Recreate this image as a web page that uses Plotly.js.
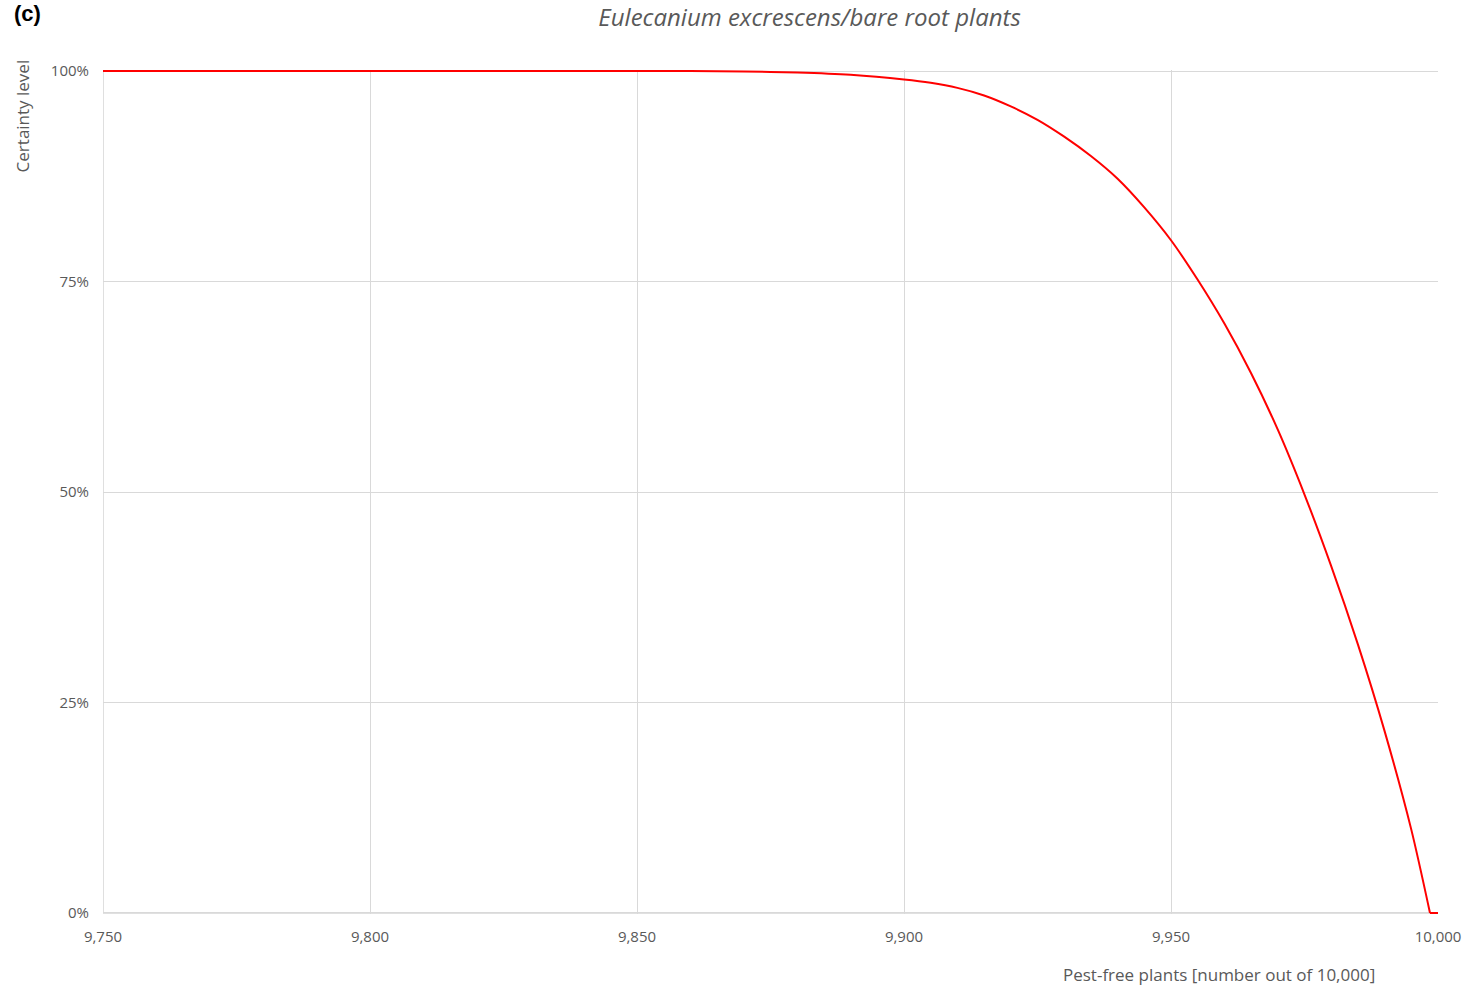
<!DOCTYPE html>
<html>
<head>
<meta charset="utf-8">
<script src="https://cdn.plot.ly/plotly-3.0.1.min.js"></script>
<style>html,body{margin:0;padding:0;background:#fff;}#chart{width:1464px;height:988px;}</style>
</head>
<body>
<div id="chart"></div>
<script>
const pestFree = [9750, 9800, 9850, 9860, 9870, 9880, 9890, 9900, 9905, 9910, 9915, 9920, 9925, 9930, 9935, 9940, 9945, 9950, 9955, 9960, 9965, 9970, 9975, 9980, 9985, 9990, 9995, 9998.5, 10000];
const certainty = [1.0, 1.0, 1.0, 0.9999, 0.9995, 0.9982, 0.9955, 0.990, 0.986, 0.980, 0.971, 0.958, 0.942, 0.922, 0.899, 0.872, 0.838, 0.799, 0.752, 0.700, 0.641, 0.574, 0.497, 0.412, 0.319, 0.216, 0.099, 0.0, 0.0];
const xTicks = [9750, 9800, 9850, 9900, 9950, 10000];
const xTickLabels = ["9,750", "9,800", "9,850", "9,900", "9,950", "10,000"];
const yTicks = [0, 0.25, 0.5, 0.75, 1.0];
const yTickLabels = ["0%", "25%", "50%", "75%", "100%"];

const font = "Open Sans, Liberation Sans, sans-serif";
const n = pestFree.length;
const curve = {
  x: pestFree.slice(0, n - 1), y: certainty.slice(0, n - 1), type: "scatter", mode: "lines",
  line: {color: "#ff0000", width: 2, shape: "spline", smoothing: 0.8},
  hoverinfo: "skip"
};
const tail = {
  x: pestFree.slice(n - 2), y: certainty.slice(n - 2), type: "scatter", mode: "lines",
  line: {color: "#ff0000", width: 2},
  hoverinfo: "skip"
};
const layout = {
  width: 1464, height: 988,
  margin: {l: 103, r: 26, t: 70, b: 74},
  paper_bgcolor: "#ffffff", plot_bgcolor: "#ffffff",
  showlegend: false,
  title: {text: "<i>Eulecanium excrescens/bare root plants</i>", x: 0.553, xanchor: "center", y: 0.982, yanchor: "middle",
          font: {family: font, size: 24, color: "#595959"}},
  xaxis: {
    range: [9750, 10000], tickvals: xTicks, ticktext: xTickLabels,
    showgrid: true, gridcolor: "#d9d9d9", gridwidth: 1,
    showline: false,
    zeroline: false, ticks: "", ticklabelstandoff: 12,
    tickfont: {family: font, size: 15, color: "#595959"}
  },
  yaxis: {
    range: [-0.0012, 1.0012], tickvals: yTicks, ticktext: yTickLabels,
    showgrid: true, gridcolor: "#d9d9d9", gridwidth: 1,
    showline: false,
    zeroline: false, ticks: "", ticklabelstandoff: 13,
    tickfont: {family: font, size: 15, color: "#595959"}
  },
  shapes: [
    {type: "line", xref: "x", yref: "y", x0: 9750, x1: 10000, y0: 0, y1: 0, line: {color: "#bfbfbf", width: 1}, layer: "below"},
    {type: "line", xref: "x", yref: "y", x0: 9750, x1: 9750, y0: 0, y1: 1, line: {color: "#bfbfbf", width: 1}, layer: "below"}
  ],
  annotations: [
    {text: "<b>(c)</b>", xref: "paper", yref: "paper", x: -0.0682, y: 1.0665, xanchor: "left", yanchor: "middle",
     showarrow: false, font: {family: "Liberation Sans, Arial, sans-serif", size: 22, color: "#000000"}},
    {text: "Certainty level", xref: "paper", yref: "paper", x: -0.0607, y: 1.0155, xanchor: "center", yanchor: "top",
     textangle: -90, showarrow: false, font: {family: font, size: 17, color: "#595959"}},
    {text: "Pest-free plants [number out of 10,000]", xref: "paper", yref: "paper", x: 0.9545, y: -0.0712, xanchor: "right", yanchor: "middle",
     showarrow: false, font: {family: font, size: 17, color: "#595959"}}
  ]
};
Plotly.newPlot("chart", [curve, tail], layout, {displayModeBar: false, staticPlot: true});
</script>
</body>
</html>
